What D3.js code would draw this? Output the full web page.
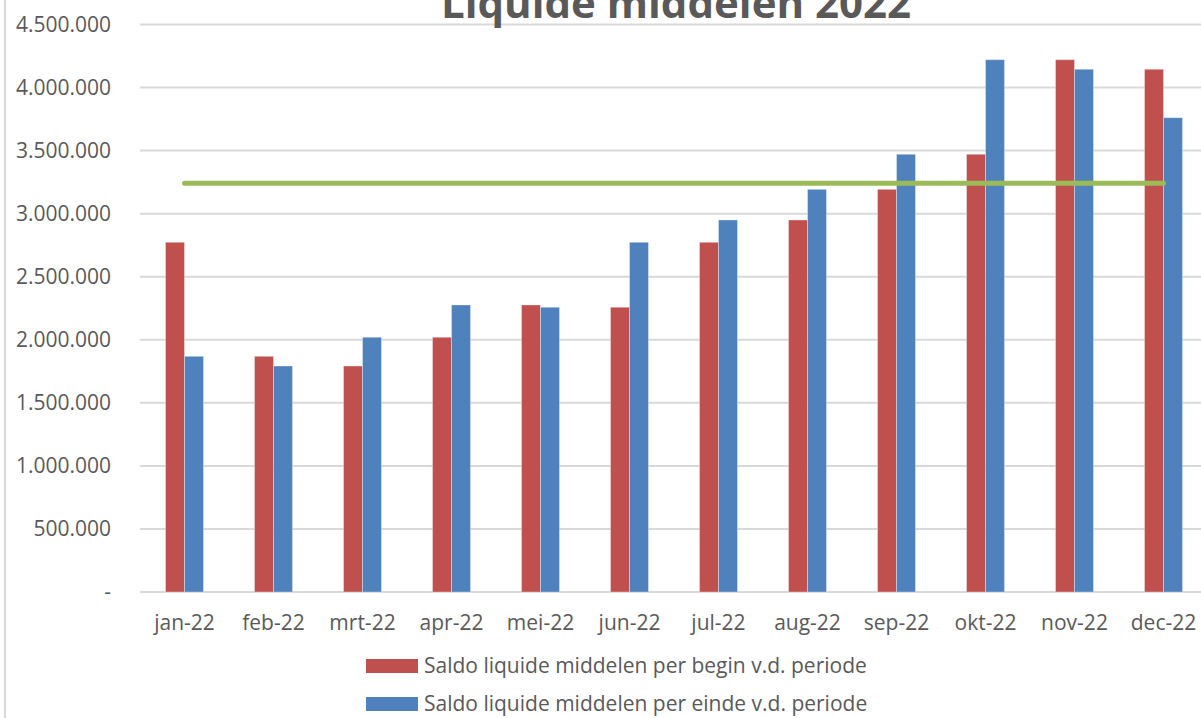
<!DOCTYPE html>
<html>
<head>
<meta charset="utf-8">
<script src="https://cdn.jsdelivr.net/npm/d3@7"></script>
<style>
  body { margin: 0; background: #fff; }
  svg { display: block; font-family: 'Open Sans', sans-serif; }
</style>
</head>
<body>
<script>
'use strict';

const months = ['jan-22', 'feb-22', 'mrt-22', 'apr-22', 'mei-22', 'jun-22',
  'jul-22', 'aug-22', 'sep-22', 'okt-22', 'nov-22', 'dec-22'];
const beginValues = [2773000, 1869000, 1792000, 2020000, 2276000, 2258000,
  2773000, 2950000, 3193000, 3471000, 4221000, 4145000];
const endValues = [1869000, 1792000, 2020000, 2276000, 2258000, 2773000,
  2950000, 3193000, 3471000, 4221000, 4145000, 3761000];
const normValues = [3242000, 3242000, 3242000, 3242000, 3242000, 3242000,
  3242000, 3242000, 3242000, 3242000, 3242000, 3242000];
const yTicks = [0, 500000, 1000000, 1500000, 2000000, 2500000, 3000000,
  3500000, 4000000, 4500000];
const seriesNames = ['Saldo liquide middelen per begin v.d. periode',
  'Saldo liquide middelen per einde v.d. periode'];
const seriesColors = ['#C0504D', '#4F81BD'];

const width = 1201;
const height = 718;
const textColor = '#595959';
const gridColor = '#d9d9d9';

const nl = d3.formatLocale({decimal: ',', thousands: '.', grouping: [3], currency: ['€', '']});
const numFormat = d => d === 0 ? '-' : nl.format(',.0f')(d);

const xScale = d3.scaleBand()
    .domain(months)
    .range([140, 1208])
    .paddingInner(0.573)
    .paddingOuter(0.2865);

const seriesScale = d3.scaleBand()
    .domain([0, 1])
    .range([0, xScale.bandwidth()]);

const yScale = d3.scaleLinear()
    .domain([0, 4500000])
    .range([592, 24.5]);

const svg = d3.select('body').append('svg')
    .attr('width', width)
    .attr('height', height);

// chart border on the left
svg.append('line')
    .attr('x1', 5).attr('x2', 5)
    .attr('y1', 0).attr('y2', height)
    .attr('stroke', gridColor)
    .attr('stroke-width', 2);

// gridlines + y labels
const yAxis = svg.append('g').attr('class', 'axis axis--y');
yAxis.selectAll('line')
    .data(yTicks)
  .enter().append('line')
    .attr('x1', 140).attr('x2', width)
    .attr('y1', d => yScale(d)).attr('y2', d => yScale(d))
    .attr('stroke', gridColor)
    .attr('stroke-width', 2);
yAxis.selectAll('text')
    .data(yTicks)
  .enter().append('text')
    .attr('x', 111)
    .attr('y', d => yScale(d))
    .attr('dy', '0.35em')
    .attr('text-anchor', 'end')
    .attr('fill', textColor)
    .style('font-size', '21px')
    .text(numFormat);

// title (cut off at the top, as in the original)
svg.append('text')
    .attr('x', 676)
    .attr('y', 18)
    .attr('text-anchor', 'middle')
    .attr('fill', textColor)
    .style('font-size', '42px')
    .style('font-weight', 'bold')
    .text('Liquide middelen 2022');

// bars
const series = [beginValues, endValues];
series.forEach((vals, i) => {
  svg.append('g')
    .selectAll('rect')
      .data(vals)
    .enter().append('rect')
      .attr('x', (d, j) => xScale(months[j]) + seriesScale(i))
      .attr('y', d => yScale(d))
      .attr('width', seriesScale.bandwidth())
      .attr('height', d => yScale(0) - yScale(d))
      .attr('fill', seriesColors[i])
      .attr('stroke', '#ffffff')
      .attr('stroke-opacity', 0.35)
      .attr('stroke-width', 1);
});

// norm line
const line = d3.line()
    .x((d, j) => xScale(months[j]) + xScale.bandwidth() / 2)
    .y(d => yScale(d));
svg.append('path')
    .datum(normValues)
    .attr('d', line)
    .attr('fill', 'none')
    .attr('stroke', '#9BBB59')
    .attr('stroke-width', 5)
    .attr('stroke-linecap', 'round');

// x labels
svg.append('g')
    .attr('class', 'axis axis--x')
  .selectAll('text')
    .data(months)
  .enter().append('text')
    .attr('x', d => xScale(d) + xScale.bandwidth() / 2)
    .attr('y', 623)
    .attr('dy', '0.35em')
    .attr('text-anchor', 'middle')
    .attr('fill', textColor)
    .style('font-size', '21px')
    .text(d => d);

// legend
const legend = svg.append('g').attr('class', 'legend');
seriesNames.forEach((name, i) => {
  const cy = 666 + i * 38;
  legend.append('rect')
      .attr('x', 366).attr('y', cy - 7)
      .attr('width', 52).attr('height', 14)
      .attr('fill', seriesColors[i]);
  legend.append('text')
      .attr('x', 424).attr('y', cy)
      .attr('dy', '0.35em')
      .attr('fill', textColor)
      .style('font-size', '21px')
      .text(name);
});
</script>
</body>
</html>
